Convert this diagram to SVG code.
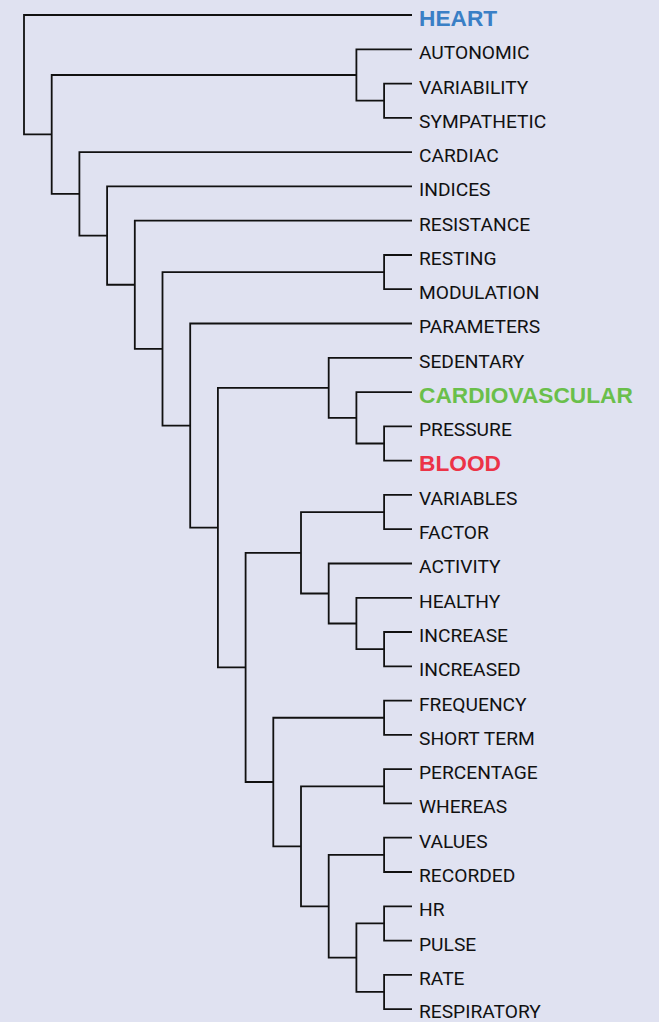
<svg xmlns="http://www.w3.org/2000/svg" width="659" height="1022" viewBox="0 0 659 1022">
<style>
.bg{fill:#e0e2f1}
.e{fill:none;stroke:#111;stroke-width:1.8;stroke-linejoin:miter;stroke-linecap:butt}
.t{font-family:Roboto,"Open Sans",sans-serif;font-size:19.2px;fill:#111}
.b{font-family:"Liberation Sans",Arial,sans-serif;font-size:22.7px;font-weight:bold}
.blue{fill:#3a7fc6}
.green{fill:#6abf4b}
.red{fill:#ec3347}
</style>
<rect class="bg" x="0" y="0" width="659" height="1022"/>
<g id="connectors">
<path class="e" d="M412 83.6H384.1V117.8H412"/>
<path class="e" d="M412 49.3H356.4V100.7H384.1"/>
<path class="e" d="M412 255H384.1V289.2H412"/>
<path class="e" d="M412 426.4H384.1V460.6H412"/>
<path class="e" d="M412 392.1H356.4V443.5H384.1"/>
<path class="e" d="M412 357.8H328.7V417.8H356.4"/>
<path class="e" d="M412 494.9H384.1V529.2H412"/>
<path class="e" d="M412 632H384.1V666.3H412"/>
<path class="e" d="M412 597.8H356.4V649.15H384.1"/>
<path class="e" d="M412 563.5H328.7V623.5H356.4"/>
<path class="e" d="M384.1 512.05H301V593.5H328.7"/>
<path class="e" d="M412 700.6H384.1V734.9H412"/>
<path class="e" d="M412 769.2H384.1V803.4H412"/>
<path class="e" d="M412 837.7H384.1V872H412"/>
<path class="e" d="M412 906.3H384.1V940.6H412"/>
<path class="e" d="M412 974.8H384.1V1009.1H412"/>
<path class="e" d="M384.1 923.45H356.4V991.95H384.1"/>
<path class="e" d="M384.1 854.85H328.7V957.7H356.4"/>
<path class="e" d="M384.1 786.3H301V906.3H328.7"/>
<path class="e" d="M384.1 717.75H273.3V846.3H301"/>
<path class="e" d="M301 552.8H245.6V782H273.3"/>
<path class="e" d="M328.7 387.8H217.9V667.4H245.6"/>
<path class="e" d="M412 323.5H190.2V527.6H217.9"/>
<path class="e" d="M384.1 272.1H162.5V425.55H190.2"/>
<path class="e" d="M412 220.7H134.8V348.8H162.5"/>
<path class="e" d="M412 186.4H107.1V284.75H134.8"/>
<path class="e" d="M412 152.1H79.4V235.6H107.1"/>
<path class="e" d="M356.4 75H51.7V193.85H79.4"/>
<path class="e" d="M412 15H24V134.4H51.7"/>
</g>
<g id="n-heart"><text class="b blue" x="419" y="25.6">HEART</text></g>
<g id="n-autonomic"><text class="t" x="419" y="59.2">AUTONOMIC</text></g>
<g id="n-variability"><text class="t" x="419" y="93.5">VARIABILITY</text></g>
<g id="n-sympathetic"><text class="t" x="419" y="127.7">SYMPATHETIC</text></g>
<g id="n-cardiac"><text class="t" x="419" y="162">CARDIAC</text></g>
<g id="n-indices"><text class="t" x="419" y="196.3">INDICES</text></g>
<g id="n-resistance"><text class="t" x="419" y="230.6">RESISTANCE</text></g>
<g id="n-resting"><text class="t" x="419" y="264.9">RESTING</text></g>
<g id="n-modulation"><text class="t" x="419" y="299.1">MODULATION</text></g>
<g id="n-parameters"><text class="t" x="419" y="333.4">PARAMETERS</text></g>
<g id="n-sedentary"><text class="t" x="419" y="367.7">SEDENTARY</text></g>
<g id="n-cardiovascular"><text class="b green" x="419" y="402.7">CARDIOVASCULAR</text></g>
<g id="n-pressure"><text class="t" x="419" y="436.3">PRESSURE</text></g>
<g id="n-blood"><text class="b red" x="419" y="471.2">BLOOD</text></g>
<g id="n-variables"><text class="t" x="419" y="504.8">VARIABLES</text></g>
<g id="n-factor"><text class="t" x="419" y="539.1">FACTOR</text></g>
<g id="n-activity"><text class="t" x="419" y="573.4">ACTIVITY</text></g>
<g id="n-healthy"><text class="t" x="419" y="607.7">HEALTHY</text></g>
<g id="n-increase"><text class="t" x="419" y="641.9">INCREASE</text></g>
<g id="n-increased"><text class="t" x="419" y="676.2">INCREASED</text></g>
<g id="n-frequency"><text class="t" x="419" y="710.5">FREQUENCY</text></g>
<g id="n-shortterm"><text class="t" x="419" y="744.8">SHORT TERM</text></g>
<g id="n-percentage"><text class="t" x="419" y="779.1">PERCENTAGE</text></g>
<g id="n-whereas"><text class="t" x="419" y="813.3">WHEREAS</text></g>
<g id="n-values"><text class="t" x="419" y="847.6">VALUES</text></g>
<g id="n-recorded"><text class="t" x="419" y="881.9">RECORDED</text></g>
<g id="n-hr"><text class="t" x="419" y="916.2">HR</text></g>
<g id="n-pulse"><text class="t" x="419" y="950.5">PULSE</text></g>
<g id="n-rate"><text class="t" x="419" y="984.7">RATE</text></g>
<g id="n-respiratory"><text class="t" x="419" y="1018.4">RESPIRATORY</text></g>
</svg>
